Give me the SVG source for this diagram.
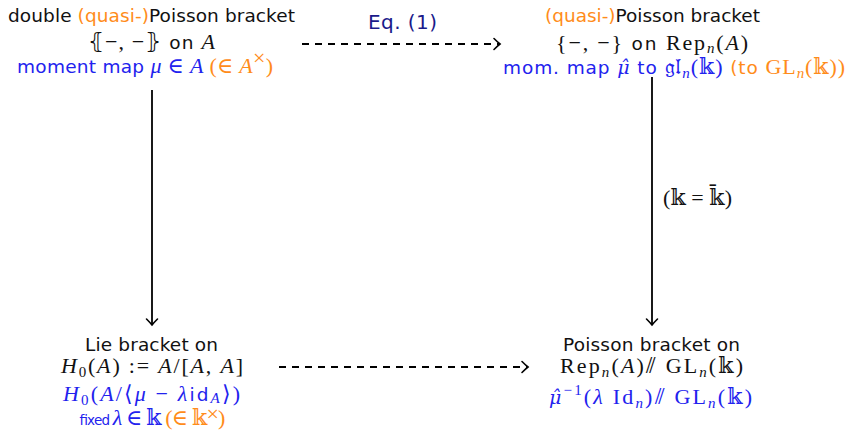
<svg xmlns="http://www.w3.org/2000/svg" width="847" height="430" viewBox="0 0 847 430">
<style>
text{font-family:"DejaVu Sans",sans-serif;font-size:18.5px;fill:#111;text-anchor:middle}
.m{font-family:"Liberation Serif","DejaVu Serif",serif;font-size:22px}
.h{font-family:"DejaVu Serif",serif;font-style:italic;font-size:19px}
.i{font-style:italic}
.sub{font-size:15px}
.o{fill:#ff8c1a}
.b{fill:#2222ee}
.nv{fill:#1a1a8a;font-size:20px}
.sm{font-size:13.5px}
.ln{stroke:#000;stroke-width:1.8;fill:none}
.d{stroke-dasharray:7 6}
</style>
<defs>
<marker id="ah" markerWidth="14" markerHeight="14" refX="0" refY="0" viewBox="-8 -7 10 14" orient="auto" markerUnits="userSpaceOnUse">
<path d="M-6,-5.5 Q-2,-1.5 0,0 Q-2,1.5 -6,5.5" fill="none" stroke="#000" stroke-width="1.6" stroke-linecap="round"/>
</marker>
</defs>
<g id="connectors">
<line class="ln" x1="152" y1="90" x2="152" y2="325" marker-end="url(#ah)"/>
<line class="ln" x1="652" y1="77" x2="652" y2="325" marker-end="url(#ah)"/>
<line class="ln d" x1="302" y1="44" x2="500" y2="44" marker-end="url(#ah)"/>
<line class="ln d" x1="279" y1="367" x2="528" y2="367" marker-end="url(#ah)"/>
<text class="nv" x="402.5" y="29" textLength="69">Eq. (1)</text>
<text x="697.5" y="205" class="m" font-size="22" textLength="69">(𝕜 = 𝕜̄)</text>
</g>
<g id="node-tl">
<text x="151.5" y="22" textLength="287">double <tspan class="o">(quasi-)</tspan>Poisson bracket</text>
<text x="151.5" y="49" textLength="127"><tspan class="m">⦃−, −⦄</tspan> on <tspan class="m i">A</tspan></text>
<text x="145" y="73" textLength="256"><tspan class="b">moment map </tspan><tspan class="m i b">μ</tspan><tspan class="m b"> ∈ </tspan><tspan class="m i b">A</tspan><tspan class="m o"> (∈ </tspan><tspan class="m i o">A</tspan><tspan class="m o" dy="-8" font-size="14">×</tspan><tspan class="m o" dy="8">)</tspan></text>
</g>
<g id="node-tr">
<text x="652.5" y="22" textLength="215"><tspan class="o">(quasi-)</tspan>Poisson bracket</text>
<text x="652" y="50" textLength="192"><tspan class="m">{−, −}</tspan> on <tspan class="m">Rep</tspan><tspan class="m i sub" dy="3">n</tspan><tspan class="m" dy="-3">(</tspan><tspan class="m i">A</tspan><tspan class="m">)</tspan></text>
<text x="674" y="74" textLength="342"><tspan class="b">mom. map </tspan><tspan class="h b">μ̂</tspan><tspan class="b"> to </tspan><tspan class="m b" font-size="19">𝔤𝔩</tspan><tspan class="m i b sub" dy="4">n</tspan><tspan class="m b" dy="-4">(𝕜)</tspan><tspan class="o"> (to </tspan><tspan class="m o">GL</tspan><tspan class="m i o sub" dy="4">n</tspan><tspan class="m o" dy="-4">(𝕜))</tspan></text>
</g>
<g id="node-bl">
<text x="151.5" y="351" textLength="133">Lie bracket on</text>
<text x="152" y="373" textLength="182"><tspan class="m i">H</tspan><tspan class="m sub" dy="4">0</tspan><tspan class="m" dy="-4">(</tspan><tspan class="m i">A</tspan><tspan class="m">) := </tspan><tspan class="m i">A</tspan><tspan class="m">/[</tspan><tspan class="m i">A</tspan><tspan class="m">, </tspan><tspan class="m i">A</tspan><tspan class="m">]</tspan></text>
<text x="151.5" y="401" textLength="177"><tspan class="m i b">H</tspan><tspan class="m b sub" dy="4">0</tspan><tspan class="m b" dy="-4">(</tspan><tspan class="m i b">A</tspan><tspan class="m b">/⟨</tspan><tspan class="m i b">μ</tspan><tspan class="m b"> − </tspan><tspan class="m i b">λ</tspan><tspan class="b">id</tspan><tspan class="m i b sub" dy="2">A</tspan><tspan class="m b" dy="-2">⟩)</tspan></text>
<text x="152" y="425" class="sm" textLength="146"><tspan class="b">fixed </tspan><tspan class="m i b" font-size="15">λ</tspan><tspan class="m b" font-size="13"> ∈ 𝕜 </tspan><tspan class="m o" font-size="13">(∈ 𝕜</tspan><tspan class="m o" font-size="10" dy="-4">×</tspan><tspan class="m o" font-size="13" dy="4">)</tspan></text>
</g>
<g id="node-br">
<text x="651.5" y="351" textLength="177">Poisson bracket on</text>
<text x="651.5" y="373" textLength="183"><tspan class="m">Rep</tspan><tspan class="m i sub" dy="4">n</tspan><tspan class="m" dy="-4">(</tspan><tspan class="m i">A</tspan><tspan class="m">)⫽ GL</tspan><tspan class="m i sub" dy="4">n</tspan><tspan class="m" dy="-4">(𝕜)</tspan></text>
<text x="650.5" y="404" textLength="203"><tspan class="h b" font-size="20">μ̂</tspan><tspan class="m b sub" dy="-9">−1</tspan><tspan class="m b" dy="9">(</tspan><tspan class="m i b">λ</tspan><tspan class="m b"> Id</tspan><tspan class="m i b sub" dy="4">n</tspan><tspan class="m b" dy="-4">)⫽ GL</tspan><tspan class="m i b sub" dy="4">n</tspan><tspan class="m b" dy="-4">(𝕜)</tspan></text>
</g>
</svg>
